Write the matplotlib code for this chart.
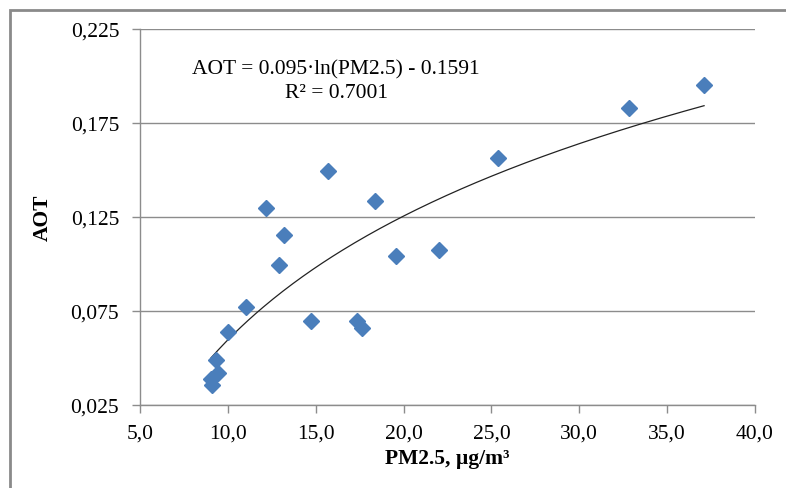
import numpy as np
import matplotlib
matplotlib.use("Agg")
import matplotlib.pyplot as plt
from matplotlib.ticker import FuncFormatter
from matplotlib.patches import Rectangle

# data
pm25 = [9.05, 9.10, 9.45, 9.30, 9.99, 11.01, 12.91, 12.15, 13.21, 14.71,
        15.72, 17.36, 17.61, 18.37, 19.57, 22.02, 25.36, 32.85, 37.10]
aot = [0.0388, 0.0355, 0.0418, 0.0487, 0.0640, 0.0770, 0.0996, 0.1298, 0.1156, 0.0695,
       0.1493, 0.0698, 0.0660, 0.1337, 0.1044, 0.1074, 0.1565, 0.1828, 0.1952]

xticks = [5, 10, 15, 20, 25, 30, 35, 40]
yticks = [0.025, 0.075, 0.125, 0.175, 0.225]

# log trend line given on the chart
coef_a = 0.095
coef_b = -0.1591
eq_text = "AOT = 0.095·ln(PM2.5) - 0.1591"
r2_text = "R² = 0.7001"

xlabel = "PM2.5, µg/m³"
ylabel = "AOT"

plt.rcParams['font.family'] = ['Liberation Serif', 'DejaVu Serif']
fs = 15.5

fig = plt.figure(figsize=(7.86, 4.89), dpi=100)
fig.patch.set_facecolor('white')
ax = fig.add_axes([0.1781, 0.1697, 0.9606 - 0.1781, 0.9387 - 0.1697])

# outer chart frame (only top and left edges visible)
fig.patches.append(Rectangle((10 / 786, -1.0), 2.0, 1.0 + (1 - 11 / 489),
                             transform=fig.transFigure, fill=False,
                             edgecolor='#8a8a8a', linewidth=2.0))

ax.set_xlim(5, 40)
ax.set_ylim(0.025, 0.225)
ax.set_xticks(xticks)
ax.set_yticks(yticks)
ax.xaxis.set_major_formatter(FuncFormatter(lambda v, p: f"{v:.1f}".replace('.', ',')))
ax.yaxis.set_major_formatter(FuncFormatter(lambda v, p: f"{v:.3f}".replace('.', ',')))

ax.grid(axis='y', color='#8c8c8c', linewidth=1.0)
ax.set_axisbelow(True)
for s in ['top', 'right']:
    ax.spines[s].set_visible(False)
for s in ['left', 'bottom']:
    ax.spines[s].set_color('#8c8c8c')
    ax.spines[s].set_linewidth(1.0)
ax.tick_params(axis='both', colors='#8c8c8c', labelcolor='black', labelsize=fs,
               direction='out', length=6, width=1.0)
ax.tick_params(axis='y', pad=9)
ax.tick_params(axis='x', pad=7.5)

# trend line
xt = np.linspace(min(pm25), max(pm25), 200)
ax.plot(xt, coef_a * np.log(xt) + coef_b, color='#222222', linewidth=0.9, zorder=2)

ax.plot(pm25, aot, linestyle='none', marker='D', markersize=8.5,
        color='#4a7ebb', markeredgecolor='#4a7ebb', zorder=3)

ax.text(0.319, 0.894, eq_text, transform=ax.transAxes, ha='center', va='center', fontsize=fs)
ax.text(0.319, 0.832, r2_text, transform=ax.transAxes, ha='center', va='center', fontsize=fs)

ax.set_xlabel(xlabel, fontsize=fs, fontweight='bold', labelpad=4)
ax.set_ylabel(ylabel, fontsize=fs, fontweight='bold', labelpad=13)

fig.savefig('out.png', dpi=100)
